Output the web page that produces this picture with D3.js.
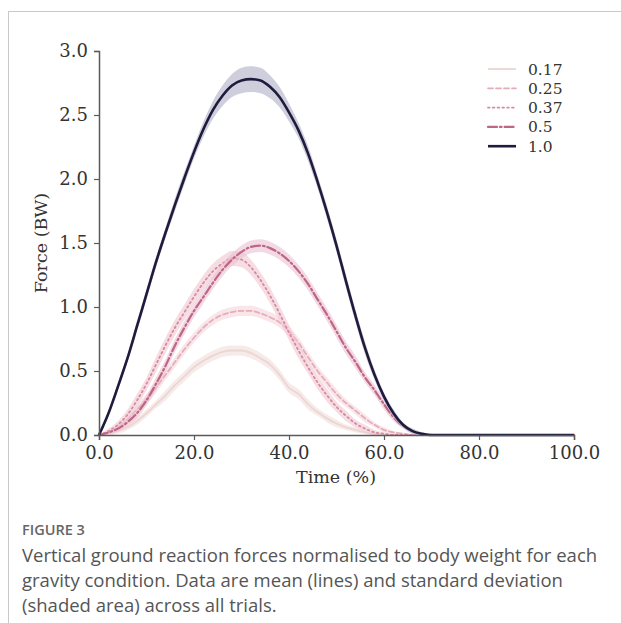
<!DOCTYPE html>
<html>
<head>
<meta charset="utf-8">
<script src="https://cdn.jsdelivr.net/npm/d3@7/dist/d3.min.js"></script>
<style>
  html, body { margin: 0; padding: 0; background: #fff; }
  svg { display: block; }
</style>
</head>
<body>
<svg id="chart" width="621" height="623"></svg>
<script>
// ---------- data ----------
const time = d3.range(0, 101, 2); // 0..100 step 2 (51 points)

const seriesNames = ["0.17", "0.25", "0.37", "0.5", "1.0"];

const mean017 = [0,0.01,0.03,0.06,0.11,0.17,0.24,0.31,0.39,0.46,0.53,0.58,0.62,0.65,0.66,0.66,0.64,0.60,0.55,0.47,0.37,0.32,0.24,0.18,0.13,0.09,0.06,0.04,0.02,0.01,0,0,0,0,0,0,0,0,0,0,0,0,0,0,0,0,0,0,0,0,0];
const sd017   = [0,0.01,0.02,0.02,0.03,0.03,0.03,0.04,0.04,0.04,0.04,0.04,0.04,0.04,0.04,0.04,0.04,0.04,0.04,0.04,0.04,0.04,0.04,0.03,0.03,0.03,0.02,0.02,0.01,0.01,0,0,0,0,0,0,0,0,0,0,0,0,0,0,0,0,0,0,0,0,0];

const mean025 = [0,0.02,0.06,0.12,0.20,0.28,0.37,0.47,0.57,0.67,0.76,0.84,0.90,0.94,0.96,0.97,0.97,0.95,0.92,0.88,0.81,0.72,0.61,0.50,0.41,0.32,0.25,0.19,0.13,0.08,0.04,0.02,0.01,0,0,0,0,0,0,0,0,0,0,0,0,0,0,0,0,0,0];
const sd025   = [0,0.01,0.02,0.03,0.03,0.04,0.04,0.04,0.04,0.04,0.04,0.04,0.04,0.04,0.04,0.04,0.04,0.04,0.04,0.04,0.04,0.04,0.04,0.04,0.04,0.04,0.03,0.03,0.03,0.02,0.02,0.01,0.01,0,0,0,0,0,0,0,0,0,0,0,0,0,0,0,0,0,0];

const mean037 = [0,0.03,0.08,0.16,0.27,0.40,0.55,0.70,0.84,0.96,1.08,1.19,1.28,1.34,1.38,1.37,1.31,1.21,1.09,0.95,0.80,0.66,0.53,0.41,0.31,0.22,0.15,0.09,0.05,0.02,0.01,0,0,0,0,0,0,0,0,0,0,0,0,0,0,0,0,0,0,0,0];
const sd037   = [0,0.02,0.03,0.04,0.05,0.05,0.06,0.06,0.06,0.06,0.06,0.06,0.06,0.06,0.06,0.06,0.06,0.06,0.06,0.06,0.06,0.06,0.05,0.05,0.05,0.04,0.04,0.03,0.03,0.02,0.01,0.01,0,0,0,0,0,0,0,0,0,0,0,0,0,0,0,0,0,0,0];

const mean05  = [0,0.02,0.05,0.10,0.17,0.27,0.40,0.54,0.70,0.84,0.97,1.08,1.19,1.29,1.37,1.43,1.47,1.48,1.46,1.42,1.36,1.28,1.18,1.06,0.94,0.81,0.68,0.57,0.45,0.35,0.24,0.14,0.07,0.03,0.01,0,0,0,0,0,0,0,0,0,0,0,0,0,0,0,0];
const sd05    = [0,0.01,0.02,0.03,0.04,0.04,0.05,0.05,0.05,0.05,0.05,0.05,0.05,0.05,0.05,0.05,0.05,0.05,0.05,0.05,0.05,0.05,0.05,0.05,0.05,0.05,0.05,0.05,0.04,0.04,0.04,0.03,0.02,0.02,0.01,0,0,0,0,0,0,0,0,0,0,0,0,0,0,0,0];

const mean10  = [0,0.17,0.38,0.60,0.85,1.10,1.35,1.58,1.80,2.01,2.21,2.39,2.54,2.65,2.73,2.77,2.78,2.77,2.72,2.64,2.52,2.38,2.20,1.98,1.74,1.48,1.20,0.93,0.68,0.47,0.30,0.17,0.08,0.03,0.01,0,0,0,0,0,0,0,0,0,0,0,0,0,0,0,0];
const sd10    = [0.01,0.02,0.03,0.03,0.04,0.04,0.04,0.04,0.05,0.05,0.05,0.06,0.07,0.08,0.09,0.10,0.10,0.10,0.09,0.08,0.07,0.06,0.06,0.05,0.05,0.05,0.05,0.05,0.05,0.04,0.03,0.03,0.02,0.02,0.01,0.01,0,0,0,0,0,0,0,0,0,0,0,0,0,0,0];

const xTicks = [0, 20, 40, 60, 80, 100];
const yTicks = [0, 0.5, 1.0, 1.5, 2.0, 2.5, 3.0];

const captionTitle = "FIGURE 3";
const captionLines = [
  "Vertical ground reaction forces normalised to body weight for each",
  "gravity condition. Data are mean (lines) and standard deviation",
  "(shaded area) across all trials."
];

// ---------- build ----------
const means = [mean017, mean025, mean037, mean05, mean10];
const sds = [sd017, sd025, sd037, sd05, sd10];
const lineColors = ["#ead6d2", "#e6acb8", "#d7899f", "#bf6585", "#1e1b3d"];
const bandColors = ["#f3e2e0", "#f5d6dc", "#f0c6d2", "#e9bfd0", "#c3c2d4"];
const bandOpacity = [0.7, 0.6, 0.6, 0.6, 0.8];
const dashes = [null, "5,3", "1.6,3.2", "9,3,1.6,3", null];
const widths = [1.8, 1.8, 1.8, 2.2, 2.6];

const svg = d3.select("#chart");
const serif = "'DejaVu Serif', serif";

// frame
svg.append("line").attr("x1", 8.5).attr("x2", 8.5).attr("y1", 11).attr("y2", 623)
  .attr("stroke", "#c9c9c9").attr("stroke-width", 1);
svg.append("line").attr("x1", 8).attr("x2", 621).attr("y1", 11.5).attr("y2", 11.5)
  .attr("stroke", "#c9c9c9").attr("stroke-width", 1);

const x = d3.scaleLinear().domain([0, 100]).range([99, 574]);
const y = d3.scaleLinear().domain([0, 3]).range([435, 51]);

const g = svg.append("g");

seriesNames.forEach((name, i) => {
  const pts = time.map((t, k) => ({t, m: means[i][k], s: sds[i][k]}));
  const area = d3.area()
    .x(d => x(d.t))
    .y0(d => y(Math.max(0, d.m - d.s)))
    .y1(d => y(d.m + d.s))
    .curve(d3.curveMonotoneX);
  g.append("path").datum(pts).attr("d", area)
    .attr("fill", bandColors[i]).attr("fill-opacity", bandOpacity[i]).attr("stroke", "none");
  const line = d3.line().x(d => x(d.t)).y(d => y(d.m)).curve(d3.curveMonotoneX);
  const p = g.append("path").datum(pts).attr("d", line)
    .attr("fill", "none").attr("stroke", lineColors[i]).attr("stroke-width", widths[i])
    .attr("stroke-linecap", dashes[i] ? "round" : "butt");
  if (dashes[i]) p.attr("stroke-dasharray", dashes[i]);
});

// axes
const axisColor = "#5a5a5a";
const xAxis = svg.append("g").attr("transform", "translate(0,435)")
  .call(d3.axisBottom(x).tickValues(xTicks).tickFormat(d3.format(".1f")).tickSizeOuter(0).tickSize(5).tickPadding(6));
const yAxis = svg.append("g").attr("transform", "translate(99,0)")
  .call(d3.axisLeft(y).tickValues(yTicks).tickFormat(d3.format(".1f")).tickSizeOuter(0).tickSize(5).tickPadding(6));
[xAxis, yAxis].forEach(a => {
  a.select(".domain").attr("stroke", axisColor).attr("stroke-width", 1.5);
  a.selectAll(".tick line").attr("stroke", axisColor).attr("stroke-width", 1.2);
  a.selectAll(".tick text").attr("fill", "#333").style("font-family", serif).style("font-size", "18px");
});

// axis labels
svg.append("text").attr("x", 336).attr("y", 483).attr("text-anchor", "middle")
  .style("font-family", serif).style("font-size", "17.5px").attr("fill", "#333").text("Time (%)");
svg.append("text").attr("transform", "translate(47,243) rotate(-90)").attr("text-anchor", "middle")
  .style("font-family", serif).style("font-size", "17.5px").attr("fill", "#333").text("Force (BW)");

// legend
const legend = svg.append("g");
seriesNames.forEach((name, i) => {
  const ly = 69 + i * 19.3;
  const l = legend.append("line").attr("x1", 488).attr("x2", 516).attr("y1", ly).attr("y2", ly)
    .attr("stroke", lineColors[i]).attr("stroke-width", widths[i])
    .attr("stroke-linecap", dashes[i] ? "round" : "butt");
  if (dashes[i]) l.attr("stroke-dasharray", dashes[i]);
  legend.append("text").attr("x", 528).attr("y", ly + 5.5)
    .style("font-family", serif).style("font-size", "15.5px").attr("fill", "#333").text(name);
});

// caption
svg.append("text").attr("x", 22).attr("y", 535)
  .style("font-family", "'Open Sans', sans-serif").style("font-size", "14.5px").style("font-weight", "600")
  .attr("fill", "#666").text(captionTitle);
captionLines.forEach((t, i) => {
  svg.append("text").attr("x", 22).attr("y", 562 + i * 25)
    .style("font-family", "'Open Sans', sans-serif").style("font-size", "18.5px")
    .attr("fill", "#555").text(t);
});
</script>
</body>
</html>
